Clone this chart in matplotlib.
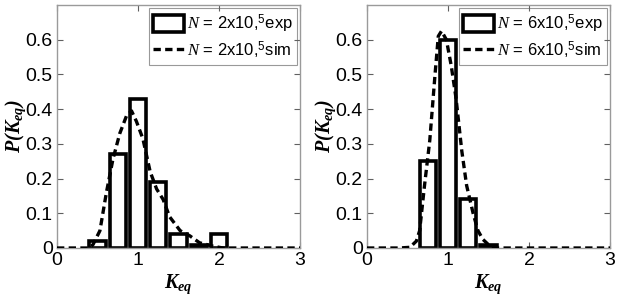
import matplotlib
matplotlib.use("Agg")
import matplotlib.pyplot as plt
import numpy as np

plt.rcParams.update({
    "font.family": ["Liberation Sans", "DejaVu Sans"],
    "mathtext.fontset": "custom",
    "mathtext.rm": "Liberation Sans",
    "mathtext.it": "Liberation Serif:italic",
    "mathtext.bf": "Liberation Serif:bold",
    "mathtext.bfit": "Liberation Serif:italic:bold",
})

# bar data
bin_centers = [0.5, 0.75, 1.0, 1.25, 1.5, 1.75, 2.0]
exp_left = [0.02, 0.27, 0.43, 0.19, 0.04, 0.01, 0.04]
exp_right = [0.0, 0.25, 0.60, 0.14, 0.01, 0.0, 0.0]

# simulated curves
sim_x_left = [0.0, 0.3, 0.4, 0.445, 0.53, 0.61, 0.69, 0.775, 0.857, 0.92, 0.98,
              1.06, 1.15, 1.23, 1.31, 1.39, 1.52, 1.64, 1.76, 1.93, 2.05, 2.5, 3.0]
sim_y_left = [0.0, 0.0, 0.0, 0.01, 0.05, 0.16, 0.255, 0.33, 0.38, 0.395, 0.365,
              0.315, 0.22, 0.17, 0.14, 0.09, 0.05, 0.035, 0.015, 0.005, 0.0, 0.0, 0.0]
sim_x_right = [0.0, 0.4, 0.53, 0.61, 0.65, 0.71, 0.775, 0.84, 0.88, 0.92, 0.98,
               1.04, 1.1, 1.17, 1.23, 1.31, 1.37, 1.43, 1.52, 1.6, 2.0, 3.0]
sim_y_right = [0.0, 0.0, 0.002, 0.02, 0.05, 0.18, 0.31, 0.5, 0.61, 0.625, 0.60,
               0.525, 0.43, 0.28, 0.18, 0.10, 0.05, 0.025, 0.005, 0.0, 0.0, 0.0]

labels_left = [r"$N$ = 2x10,$^5$exp", r"$N$ = 2x10,$^5$sim"]
labels_right = [r"$N$ = 6x10,$^5$exp", r"$N$ = 6x10,$^5$sim"]

xticks = [0, 1, 2, 3]
yticks = [0, 0.1, 0.2, 0.3, 0.4, 0.5, 0.6]
ytick_labels = ["0", "0.1", "0.2", "0.3", "0.4", "0.5", "0.6"]

fig = plt.figure(figsize=(6.19, 3.0), dpi=100)
ax1 = fig.add_axes([57 / 619, 1 - 248 / 300, 243 / 619, 243 / 300])
ax2 = fig.add_axes([367 / 619, 1 - 248 / 300, 243 / 619, 243 / 300])

spine_col = "#9a9a9a"
for ax, ey, sx, sy, labs in [(ax1, exp_left, sim_x_left, sim_y_left, labels_left),
                             (ax2, exp_right, sim_x_right, sim_y_right, labels_right)]:
    bc = [c for c, h in zip(bin_centers, ey) if h > 0]
    bh = [h for h in ey if h > 0]
    bars = ax.bar(bc, bh, width=0.2, facecolor="white", edgecolor="black",
                  linewidth=2.6, zorder=2)
    line, = ax.plot(sx, sy, linestyle=(0, (2.2, 1.3)), color="black", linewidth=2.4,
                    zorder=3)
    ax.set_xlim(0, 3)
    ax.set_ylim(0, 0.7)
    ax.set_xticks(xticks)
    ax.set_yticks(yticks)
    ax.set_yticklabels(ytick_labels)
    ax.tick_params(direction="in", length=4, width=0.8, color="#606060",
                   labelsize=14, top=True, right=True, pad=3)
    for s in ax.spines.values():
        s.set_color(spine_col)
        s.set_linewidth(1.0)
    ax.set_xlabel(r"$\mathbfit{K_{eq}}$", fontsize=14.5)
    ax.xaxis.set_label_coords(0.5, -0.1)
    ax.set_ylabel(r"$\mathbfit{P(K_{eq})}$", fontsize=14.5)
    ax.yaxis.set_label_coords(-0.12, 0.5)
    leg = ax.legend([bars, line], labs, loc="upper right", fontsize=12,
                    frameon=True, fancybox=False,
                    borderaxespad=0.2, handlelength=1.85, handleheight=1.2,
                    handletextpad=0.15, borderpad=0.25, labelspacing=0.3)
    leg.get_frame().set_edgecolor("#808080")
    leg.get_frame().set_linewidth(0.8)
    leg.set_zorder(1)

fig.savefig("out.png", dpi=100)
